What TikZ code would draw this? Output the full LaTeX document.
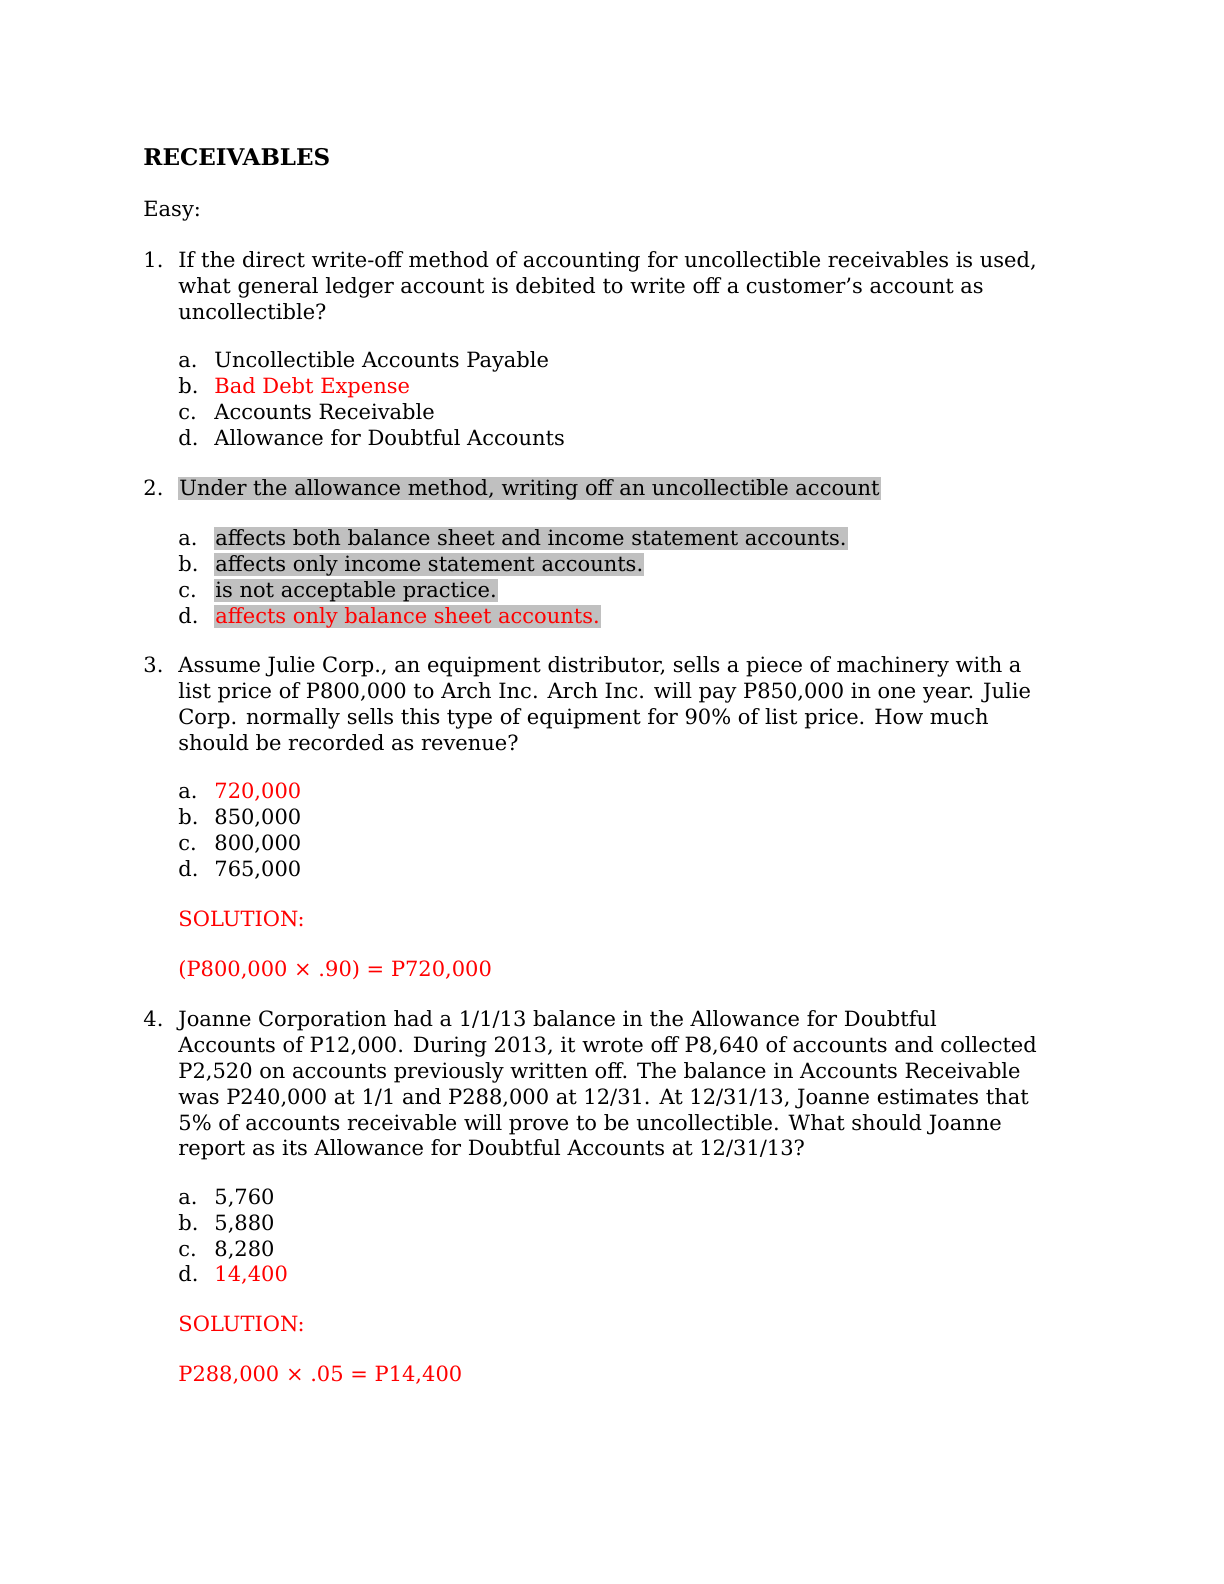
\documentclass[tikz,border=0pt]{standalone}
\usepackage{fontspec}
\setmainfont{DejaVu Serif}
\definecolor{ans}{RGB}{255,0,0}
\definecolor{hl}{RGB}{192,192,192}
\begin{document}
\begin{tikzpicture}[x=0.5pt,y=-0.5pt,
  t/.style={anchor=base west,inner sep=0pt,font=\fontsize{10.5}{12}\selectfont},
  r/.style={t,text=ans},
  h/.style={t,fill=hl,inner xsep=0.5pt,text height=9pt,text depth=2.6pt}]
\useasboundingbox (0,0) rectangle (1224,1584);
\node[t,font=\fontsize{11.5}{13}\selectfont\bfseries] (title) at (143,165) {RECEIVABLES};
\node[t] (easy) at (143,216) {Easy:};
\node[t] (q1n) at (143,267) {1.};
\node[t] (q1a) at (178,267) {If the direct write-off method of accounting for uncollectible receivables is used,};
\node[t] (q1b) at (178,293) {what general ledger account is debited to write off a customer's account as};
\node[t] (q1c) at (178,319) {uncollectible?};
\node[t] (l1a) at (178,367) {a.}; \node[t] (o1a) at (214,367) {Uncollectible Accounts Payable};
\node[t] (l1b) at (178,393) {b.}; \node[r] (o1b) at (214,393) {Bad Debt Expense};
\node[t] (l1c) at (178,419) {c.}; \node[t] (o1c) at (214,419) {Accounts Receivable};
\node[t] (l1d) at (178,445) {d.}; \node[t] (o1d) at (214,445) {Allowance for Doubtful Accounts};
\node[t] (q2n) at (143,495) {2.};
\node[h] (q2a) at (178,495) {Under the allowance method, writing off an uncollectible account};
\node[t] (l2a) at (178,545) {a.}; \node[h] (o2a) at (214,545) {affects both balance sheet and income statement accounts.};
\node[t] (l2b) at (178,571) {b.}; \node[h] (o2b) at (214,571) {affects only income statement accounts.};
\node[t] (l2c) at (178,597) {c.}; \node[h] (o2c) at (214,597) {is not acceptable practice.};
\node[t] (l2d) at (178,623) {d.}; \node[h,text=ans] (o2d) at (214,623) {affects only balance sheet accounts.};
\node[t] (q3n) at (143,672) {3.};
\node[t] (q3a) at (178,672) {Assume Julie Corp., an equipment distributor, sells a piece of machinery with a};
\node[t] (q3b) at (178,698) {list price of P800,000 to Arch Inc. Arch Inc. will pay P850,000 in one year. Julie};
\node[t] (q3c) at (178,724) {Corp. normally sells this type of equipment for 90\% of list price. How much};
\node[t] (q3d) at (178,750) {should be recorded as revenue?};
\node[t] (l3a) at (178,798) {a.}; \node[r] (o3a) at (214,798) {720,000};
\node[t] (l3b) at (178,824) {b.}; \node[t] (o3b) at (214,824) {850,000};
\node[t] (l3c) at (178,850) {c.}; \node[t] (o3c) at (214,850) {800,000};
\node[t] (l3d) at (178,876) {d.}; \node[t] (o3d) at (214,876) {765,000};
\node[r] (s3) at (178,926) {SOLUTION:};
\node[r] (f3) at (178,976) {(P800,000 × .90) = P720,000};
\node[t] (q4n) at (143,1026) {4.};
\node[t] (q4a) at (178,1026) {Joanne Corporation had a 1/1/13 balance in the Allowance for Doubtful};
\node[t] (q4b) at (178,1052) {Accounts of P12,000. During 2013, it wrote off P8,640 of accounts and collected};
\node[t] (q4c) at (178,1078) {P2,520 on accounts previously written off. The balance in Accounts Receivable};
\node[t] (q4d) at (178,1104) {was P240,000 at 1/1 and P288,000 at 12/31. At 12/31/13, Joanne estimates that};
\node[t] (q4e) at (178,1130) {5\% of accounts receivable will prove to be uncollectible. What should Joanne};
\node[t] (q4f) at (178,1155) {report as its Allowance for Doubtful Accounts at 12/31/13?};
\node[t] (l4a) at (178,1204) {a.}; \node[t] (o4a) at (214,1204) {5,760};
\node[t] (l4b) at (178,1230) {b.}; \node[t] (o4b) at (214,1230) {5,880};
\node[t] (l4c) at (178,1256) {c.}; \node[t] (o4c) at (214,1256) {8,280};
\node[t] (l4d) at (178,1281) {d.}; \node[r] (o4d) at (214,1281) {14,400};
\node[r] (s4) at (178,1331) {SOLUTION:};
\node[r] (f4) at (178,1381) {P288,000 × .05 = P14,400};
\end{tikzpicture}
\end{document}
